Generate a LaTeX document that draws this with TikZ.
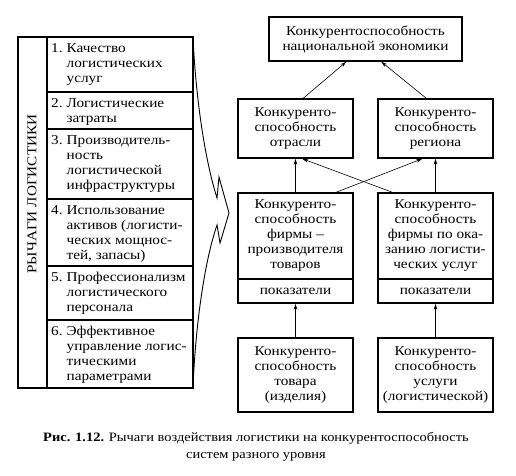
\documentclass[tikz,border=0pt]{standalone}
\usepackage{fontspec}
\setmainfont[FakeStretch=1.13]{Liberation Serif}
\usetikzlibrary{arrows.meta,calc}
\begin{document}
\begin{tikzpicture}[x=1pt,y=-1pt,
  txt/.style={font=\fontsize{13.5}{15}\selectfont},
  box/.style={draw,line width=1.5pt,align=center,inner sep=0pt,txt},
  lst/.style={anchor=north west,inner sep=0pt,txt},
  arr/.style={line width=0.6pt,-{Stealth[length=6pt,width=3.6pt]}}]
\useasboundingbox (0,0) rectangle (516,475);
% left list
\draw[line width=1.1pt] (18,37) rectangle (193,388);
\draw[line width=1.1pt] (47,37) -- (47,388);
\foreach \y in {92,129,199,266,320}{\draw[line width=1.1pt] (47,\y) -- (193,\y);}
\node[txt,rotate=90,inner sep=0pt] (lev) at (32,194) {РЫЧАГИ ЛОГИСТИКИ};
\newcommand{\lrow}[3]{\node[lst] (#1) at (51,#2+4.7) {\begin{tabular}{@{}r@{\hspace{4pt}}l@{}}#3\end{tabular}};}
\lrow{l1}{37}{1.&Качество\\&логистических\\&услуг}
\lrow{l2}{92}{2.&Логистические\\&затраты}
\lrow{l3}{129}{3.&Производитель-\\&ность\\&логистической\\&инфраструктуры}
\lrow{l4}{199}{4.&Использование\\&активов (логисти-\\&ческих мощнос-\\&тей, запасы)}
\lrow{l5}{266}{5.&Профессионализм\\&логистического\\&персонала}
\lrow{l6}{320}{6.&Эффективное\\&управление логис-\\&тическими\\&параметрами}
% brace
\coordinate (bt) at (193,38);
\coordinate (bb) at (193,386);
\coordinate (tip) at (229,213);
\draw[line width=0.9pt,line join=miter] (bt) .. controls (196,100) and (205,160) .. (217,198) -- (219,177) -- (tip) -- (220,243) -- (217,225) .. controls (205,260) and (196,320) .. (bb);
% right boxes
\node[box,minimum width=193pt,minimum height=44pt] (top) at (365.5,39) {Конкурентоспособность\\национальной экономики};
\node[box,minimum width=115pt,minimum height=59pt] (mL) at (295.5,128.5) {Конкуренто-\\способность\\отрасли};
\node[box,minimum width=115pt,minimum height=59pt] (mR) at (435.5,128.5) {Конкуренто-\\способность\\региона};
\node[box,minimum width=115pt,minimum height=86pt] (fLt) at (295.5,236) {Конкуренто-\\способность\\фирмы~--\\производителя\\товаров};
\node[box,minimum width=115pt,minimum height=24pt] (fLb) at (295.5,291) {показатели};
\node[box,minimum width=115pt,minimum height=86pt] (fRt) at (435.5,236) {Конкуренто-\\способность\\фирмы по ока-\\занию логисти-\\ческих услуг};
\node[box,minimum width=115pt,minimum height=24pt] (fRb) at (435.5,291) {показатели};
\node[box,minimum width=115pt,minimum height=74pt] (bL) at (295.5,375) {Конкуренто-\\способность\\товара\\(изделия)};
\node[box,minimum width=115pt,minimum height=74pt] (bR) at (435.5,375) {Конкуренто-\\способность\\услуги\\(логистической)};
% arrows
\draw[arr] ([xshift=66pt]mL.north west) -- ([xshift=78pt]top.south west);
\draw[arr] ([xshift=49pt]mR.north west) -- ([xshift=113pt]top.south west);
\draw[arr] (fLt.north) -- (mL.south);
\draw[arr] (fRt.north) -- (mR.south);
\draw[arr] ([xshift=99pt]fLt.north west) -- ([xshift=45pt]mR.south west);
\draw[arr] ([xshift=15pt]fRt.north west) -- ([xshift=65pt]mL.south west);
\draw[arr] (bL.north) -- (fLb.south);
\draw[arr] (bR.north) -- (fRb.south);
% caption
\node[font=\fontsize{12.8}{17.5}\selectfont,align=center,inner sep=0pt] (cap) at (256,447) {\textbf{Рис. 1.12.} Рычаги воздействия логистики на конкурентоспособность\\систем разного уровня};
\end{tikzpicture}
\end{document}
